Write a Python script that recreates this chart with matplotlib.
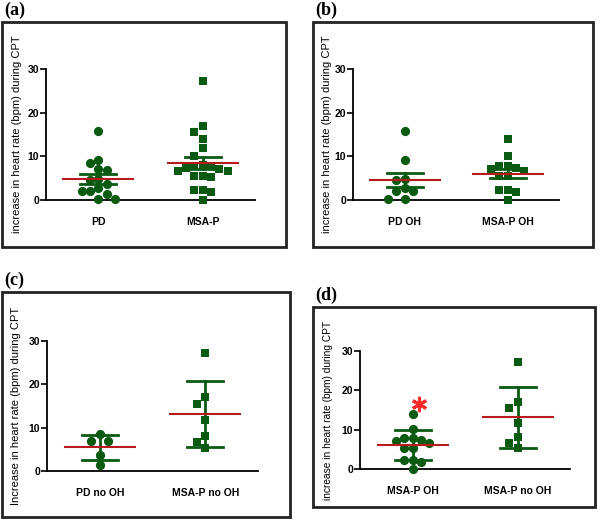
import matplotlib
matplotlib.use('Agg')
import matplotlib.pyplot as plt
from matplotlib.patches import Rectangle
import numpy as np

# increase in heart rate (bpm) during CPT
pd_oh = [15.8, 9.2, 4.8, 4.5, 2.7, 2.0, 2.0, 0.2, 0.2]
pd_no_oh = [8.5, 7.0, 6.9, 3.7, 1.3]
msap_oh = [14.0, 10.1, 7.9, 7.9, 7.3, 7.0, 6.7, 5.4, 5.4, 2.3, 2.2, 1.9, 0.0]
msap_no_oh = [27.3, 17.0, 15.5, 11.8, 8.1, 6.7, 5.3]

pd_all = pd_oh + pd_no_oh
msap_all = msap_oh + msap_no_oh

labels_a = ['PD', 'MSA-P']
labels_b = ['PD OH', 'MSA-P OH']
labels_c = ['PD no OH', 'MSA-P no OH']
labels_d = ['MSA-P OH', 'MSA-P no OH']

yticks = [0, 10, 20, 30]

GREEN = '#0b5a12'
RED = '#b8191f'

plt.rcParams['font.family'] = ['Liberation Sans', 'DejaVu Sans']

W, H = 600, 520
fig = plt.figure(figsize=(6, 5.2), dpi=100)


def swarm(vals, px_y, d):
    # simple beeswarm: offsets in pixels, columns spaced d apart
    order = np.argsort(vals)[::-1]
    placed = []
    offs = np.zeros(len(vals))
    for i in order:
        y = vals[i] * px_y
        for k in [0, -1, 1, -2, 2, -3, 3]:
            x = k * d
            if all((x - px) ** 2 + (y - py) ** 2 >= (d * 0.95) ** 2 for px, py in placed):
                break
        placed.append((x, y))
        offs[i] = x
    return offs


def panel(box, axpos, letter, groups, names, err, ylab, lab_off, lab_fs=8):
    # frame around panel (pixel coords from top-left)
    bx0, by0, bx1, by1 = box
    fig.patches.append(Rectangle((bx0 / W, 1 - by1 / H), (bx1 - bx0) / W, (by1 - by0) / H,
                                 transform=fig.transFigure, fill=False, lw=2, ec='#222222'))
    fig.text((bx0 + 2) / W, 1 - (by0 - 12) / H, letter, fontsize=13, fontweight='bold',
             family='Liberation Serif', va='center', ha='left')

    left, top0, right, y0 = axpos
    wpx, hpx = right - left, y0 - top0
    ax = fig.add_axes([left / W, 1 - y0 / H, wpx / W, hpx / H])
    ax.set_xlim(-0.5, 1.5)
    ax.set_ylim(0, 30)
    px_x = wpx / 2.0
    px_y = hpx / 30.0

    for i, vals in enumerate(groups):
        vals = np.array(vals, float)
        offs = swarm(vals, px_y, 8.3) / px_x
        ax.scatter(i + offs, vals, s=44 if i == 0 else 38, marker='o' if i == 0 else 's',
                   color=GREEN, lw=0, clip_on=False, zorder=3)
        m = vals.mean()
        sd = vals.std(ddof=1)
        e = sd / np.sqrt(len(vals)) if err == 'sem' else sd
        cap = 18 / px_x
        ax.plot([i - cap, i + cap], [m + e, m + e], color=GREEN, lw=2, zorder=4)
        ax.plot([i - cap, i + cap], [m - e, m - e], color=GREEN, lw=2, zorder=4)
        ax.plot([i, i], [m - e, m + e], color=GREEN, lw=2, zorder=4)
        half = 35 / px_x
        ax.plot([i - half, i + half], [m, m], color=RED, lw=1.5, zorder=5)

    ax.spines['top'].set_visible(False)
    ax.spines['right'].set_visible(False)
    ax.spines['left'].set_linewidth(1.3)
    ax.spines['bottom'].set_linewidth(1.3)
    ax.set_yticks(yticks)
    ax.set_xticks([0, 1])
    ax.set_xticklabels(names, fontsize=7.5, fontweight='bold')
    ax.tick_params(axis='x', length=0, pad=12)
    ax.tick_params(axis='y', length=4, width=1.2, pad=1, labelsize=7.5)
    for t in ax.get_yticklabels():
        t.set_fontweight('bold')
    ax.set_ylabel(ylab, fontsize=lab_fs)
    ax.yaxis.set_label_coords(-lab_off / wpx, 0.5)
    return ax


ylab = 'increase in heart rate (bpm) during CPT'

panel((2, 22, 286, 247), (46, 69, 255, 200), '(a)', [pd_all, msap_all], labels_a, 'sem', ylab, 24)
panel((313, 22, 593, 247), (353, 69, 559, 200), '(b)', [pd_oh, msap_oh], labels_b, 'sem', ylab, 21)
panel((2, 292, 290, 517), (47, 341, 258, 471), '(c)', [pd_no_oh, msap_no_oh], labels_c, 'sd',
      'Increase in heart rate (bpm) during CPT', 26)
ax_d = panel((313, 307, 595, 507), (360, 351, 570, 469), '(d)', [msap_oh, msap_no_oh], labels_d, 'sd',
             ylab, 27, lab_fs=7.3)

# significance marker
ax_d.plot([0.06], [16.6], marker=(6, 2, 0), ms=11, mew=2.2, color='#ff2a2a', clip_on=False)

fig.savefig('out.png', dpi=100)
